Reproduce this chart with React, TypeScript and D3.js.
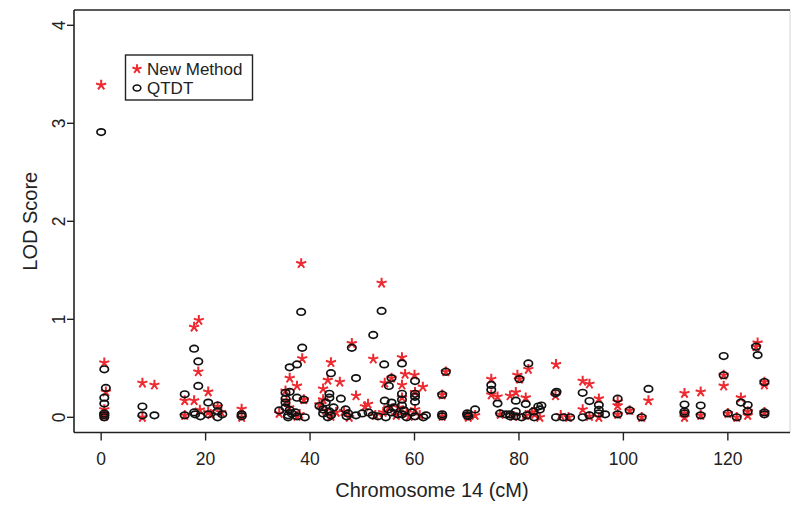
import React from "react";
import * as d3 from "d3";

// New Method (red stars): position (cM) and LOD
const newPos = [
  0, 0.6, 0.9, 0.6, 0.6, 0.6,
  7.9, 10.2, 7.9,
  18.7, 17.8, 18.6, 20.5, 16.0, 17.8, 18.9, 22.3, 23.0, 21.0, 16.0, 20.5,
  26.9, 26.9,
  38.3, 38.5, 36.1, 37.5, 35.3, 38.8, 35.5, 34.1, 37.5, 36.0, 38.0,
  44.0, 43.4, 45.7, 42.5, 42.5, 41.8, 43.0, 44.0, 45.0,
  48.0, 48.8, 46.5, 47.5,
  53.7, 52.1, 54.3, 51.1, 50.5, 55.6, 52.5, 54.0, 55.0, 56.5,
  57.6, 58.2, 60.0, 57.6, 61.6, 60.1, 60.1, 57.6, 57.0, 59.0, 58.5, 61.0,
  66.0, 65.3, 65.3,
  71.6, 70.1, 70.3,
  74.7, 74.7, 75.9, 76.4,
  81.8, 79.7, 80.1, 79.4, 78.3, 81.3, 81.3, 84.0, 79.0, 82.5, 83.0,
  87.1, 88.0, 89.5, 87.0,
  92.2, 93.5, 92.2, 95.3, 95.3, 93.5,
  98.9, 98.9, 98.9, 101.2, 103.5, 104.8,
  111.7, 111.7, 111.7, 114.8, 114.8,
  119.2, 119.2, 120.0, 121.7, 122.5, 123.8, 123.8, 125.7, 125.4, 127.0, 127.0, 127.0,
];
const newLod = [
  3.39, 0.557, 0.26, 0.08, 0.01, 0.03,
  0.35, 0.33, 0.0,
  0.99, 0.92, 0.465, 0.26, 0.17, 0.17, 0.075, 0.11, 0.05, 0.03, 0.02, 0.05,
  0.085, 0.0,
  1.57, 0.6, 0.4, 0.32, 0.27, 0.18, 0.17, 0.04, 0.01, 0.1, 0.03,
  0.56, 0.38, 0.36, 0.29, 0.18, 0.13, 0.07, 0.01, 0.05,
  0.755, 0.22, 0.06, 0.0,
  1.37, 0.595, 0.35, 0.135, 0.11, 0.4, 0.02, 0.05, 0.1, 0.02,
  0.61, 0.44, 0.43, 0.33, 0.31, 0.255, 0.08, 0.2, 0.1, 0.01, 0.05, 0.02,
  0.465, 0.23, 0.01,
  0.02, 0.02, 0.0,
  0.39, 0.23, 0.21, 0.03,
  0.49, 0.43, 0.39, 0.255, 0.22, 0.2, 0.02, 0.0, 0.01, 0.05, 0.03,
  0.54, 0.02, 0.0, 0.22,
  0.37, 0.34, 0.08, 0.19, 0.0, 0.01,
  0.16, 0.12, 0.03, 0.07, 0.0, 0.17,
  0.245, 0.04, 0.0, 0.26, 0.02,
  0.43, 0.32, 0.04, 0.0, 0.2, 0.06, 0.02, 0.76, 0.72, 0.36, 0.33, 0.05,
];

// QTDT (black circles): position (cM) and LOD
const qtdtPos = [
  0, 0.6, 0.9, 0.6, 0.6, 0.6, 0.6, 0.6,
  7.9, 7.9, 10.2,
  17.8, 18.6, 18.6, 16.0, 20.5, 22.3, 16.0, 17.8, 19.0, 20.5, 22.3, 23.2, 22.3, 18.0,
  26.9, 26.9,
  38.3, 38.5, 36.1, 37.5, 36.1, 35.3, 35.3, 35.3, 37.5, 38.8, 34.1, 35.8, 35.8, 36.1, 37.5, 39.0, 35.3, 37.2, 36.5,
  44.0, 43.7, 43.7, 41.8, 42.5, 42.5, 43.4, 43.0, 44.5, 44.0, 45.9, 43.7,
  48.0, 48.8, 46.8, 47.3, 47.0, 48.8, 50.0,
  52.1, 53.7, 54.2, 55.6, 55.1, 54.3, 55.6, 51.2, 52.0, 53.0, 55.0, 55.6, 54.5, 56.0, 56.8,
  57.6, 57.6, 60.1, 60.1, 60.1, 60.1, 57.6, 57.6, 58.0, 57.6, 58.5, 60.1, 61.7, 62.2, 59.5,
  66.0, 65.3, 65.3, 65.3,
  70.1, 70.3, 71.6, 70.1,
  74.7, 74.7, 75.9, 76.4, 77.5,
  81.8, 80.1, 79.4, 81.3, 78.3, 79.4, 78.3, 79.4, 80.5, 81.5, 82.8, 83.7, 84.0, 82.9, 84.3,
  87.0, 87.2, 87.1, 88.5, 89.8,
  92.2, 93.5, 92.2, 93.5, 95.3, 95.3, 95.3, 96.5,
  98.9, 98.9, 101.2, 103.5, 104.8,
  111.7, 111.7, 111.7, 114.8, 114.8,
  119.2, 119.2, 120.0, 121.7, 122.5, 123.8, 123.8, 125.4, 125.7, 127.0, 127.0, 127.0,
];
const qtdtLod = [
  2.91, 0.49, 0.3, 0.2, 0.14, 0.04, 0.02, 0.0,
  0.11, 0.02, 0.02,
  0.7, 0.57, 0.32, 0.235, 0.15, 0.12, 0.02, 0.05, 0.01, 0.03, 0.0, 0.03, 0.06, 0.03,
  0.01, 0.03,
  1.075, 0.71, 0.51, 0.54, 0.26, 0.25, 0.19, 0.15, 0.2, 0.18, 0.07, 0.02, 0.0, 0.075, 0.01, 0.0, 0.1, 0.05, 0.04,
  0.45, 0.24, 0.2, 0.115, 0.08, 0.04, 0.0, 0.15, 0.1, 0.02, 0.19, 0.06,
  0.71, 0.4, 0.08, 0.04, 0.01, 0.02, 0.04,
  0.84, 1.085, 0.54, 0.4, 0.32, 0.17, 0.15, 0.05, 0.02, 0.01, 0.08, 0.05, 0.0, 0.1, 0.03,
  0.55, 0.24, 0.37, 0.21, 0.24, 0.16, 0.18, 0.12, 0.07, 0.03, 0.0, 0.01, 0.0, 0.02, 0.05,
  0.465, 0.23, 0.01, 0.03,
  0.04, 0.01, 0.08, 0.02,
  0.33, 0.28, 0.14, 0.04, 0.03,
  0.55, 0.39, 0.17, 0.135, 0.03, 0.06, 0.01, 0.01, 0.0, 0.02, 0.06, 0.11, 0.08, 0.0, 0.12,
  0.245, 0.26, 0.0, 0.0, 0.0,
  0.25, 0.166, 0.0, 0.02, 0.125, 0.075, 0.04, 0.03,
  0.19, 0.03, 0.07, 0.0, 0.29,
  0.13, 0.04, 0.06, 0.12, 0.02,
  0.625, 0.43, 0.04, 0.0, 0.15, 0.125, 0.06, 0.72, 0.635, 0.36, 0.05, 0.03,
];

const xTicks = [0, 20, 40, 60, 80, 100, 120];
const yTicks = [0, 1, 2, 3, 4];
const legendLabels = ["New Method", "QTDT"];
const xTitle = "Chromosome 14 (cM)";
const yTitle = "LOD Score";

const RED = "#ec2a30";
const FONT = "'Liberation Sans', Arial, Helvetica, sans-serif";

const L = 74, R = 790, T = 10, B = 432.5;

function starPath(cx: number, cy: number, r: number) {
  const p = d3.path();
  for (let i = 0; i < 5; i++) {
    const a = (-90 + i * 72) * Math.PI / 180;
    p.moveTo(cx, cy);
    p.lineTo(cx + r * Math.cos(a), cy + r * Math.sin(a));
  }
  return p.toString();
}

export default function App() {
  const x = d3.scaleLinear().domain([-5.2, 131.9]).range([L, R]);
  const y = d3.scaleLinear().domain([-0.155, 4.156]).range([B, T]);

  return (
    <svg width={800} height={510} style={{ display: "block", position: "absolute", left: 0, top: 0, background: "#fff" }}
      fontFamily={FONT}>
      <rect x={0} y={0} width={800} height={510} fill="#fff" />
      {/* frame */}
      <line x1={R} y1={T} x2={R} y2={B} stroke="#d4d4d4" strokeWidth={1} />
      <line x1={L} y1={T} x2={R} y2={T} stroke="#222" strokeWidth={1.6} />
      <line x1={L} y1={T} x2={L} y2={B} stroke="#222" strokeWidth={1.6} />
      <line x1={L} y1={B} x2={R} y2={B} stroke="#222" strokeWidth={1.6} />

      {/* x axis */}
      {xTicks.map((t) => (
        <g key={"x" + t}>
          <line x1={x(t)} x2={x(t)} y1={B} y2={B + 8} stroke="#222" strokeWidth={1.4} />
          <text x={x(t)} y={465} textAnchor="middle" fontSize={17.5} fill="#222">{t}</text>
        </g>
      ))}
      <text x={(L + R) / 2} y={497} textAnchor="middle" fontSize={20} fill="#222">{xTitle}</text>

      {/* y axis */}
      {yTicks.map((t) => (
        <g key={"y" + t}>
          <line x1={L - 7} x2={L} y1={y(t)} y2={y(t)} stroke="#222" strokeWidth={1.4} />
          <text transform={`translate(${L - 9},${y(t)}) rotate(-90)`} textAnchor="middle" fontSize={17.5} fill="#222">{t}</text>
        </g>
      ))}
      <text transform={`translate(${37},${(T + B) / 2}) rotate(-90)`} textAnchor="middle" fontSize={20} fill="#222">{yTitle}</text>

      {/* points */}
      <g>
        {newPos.map((p, i) => (
          <path key={"s" + i} d={starPath(x(p), y(newLod[i]), 5.3)} stroke={RED} strokeWidth={2} fill="none" strokeLinecap="butt" />
        ))}
      </g>
      <g>
        {qtdtPos.map((p, i) => (
          <ellipse key={"c" + i} cx={x(p)} cy={y(qtdtLod[i])} rx={4.2} ry={3.3} fill="none" stroke="#111" strokeWidth={1.7} />
        ))}
      </g>

      {/* legend */}
      <rect x={125.5} y={55} width={127} height={45} fill="#fff" stroke="#222" strokeWidth={1.4} />
      <path d={starPath(137, 69, 4.8)} stroke={RED} strokeWidth={1.9} fill="none" />
      <ellipse cx={137} cy={88} rx={3.8} ry={3} fill="none" stroke="#111" strokeWidth={1.6} />
      <text x={147} y={75} fontSize={17} fill="#222">{legendLabels[0]}</text>
      <text x={147} y={94} fontSize={17} fill="#222">{legendLabels[1]}</text>
    </svg>
  );
}
